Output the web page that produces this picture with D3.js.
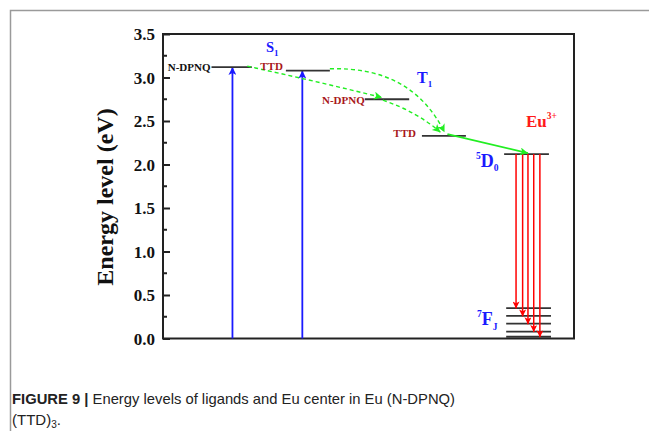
<!DOCTYPE html>
<html>
<head>
<meta charset="utf-8">
<script src="https://cdn.jsdelivr.net/npm/d3@7"></script>
<style>
  html, body { margin: 0; padding: 0; background: #fff; }
  svg { display: block; }
</style>
</head>
<body>
<svg id="chart" width="649" height="431"></svg>
<script>
// Energy levels (eV) and horizontal extents (diagram units, 0..10)
const levelNames   = ["N-DPNQ S1", "TTD S1", "N-DPNQ T1", "TTD T1", "5D0"];
const levelEnergy  = [3.12, 3.08, 2.75, 2.33, 2.12];
const levelStart   = [1.18, 2.99, 4.91, 6.30, 8.30];
const levelEnd     = [2.16, 4.06, 5.99, 7.37, 9.39];

// 7F_J manifold of Eu3+
const fjEnergy = [0.35, 0.26, 0.17, 0.08, 0.02];
const fjStart = 8.35, fjEnd = 9.44;

// Excitation arrows (ground -> S1) and emission arrows (5D0 -> 7FJ)
const excitationX   = [1.69, 3.39];
const excitationTo  = [3.12, 3.08];
const emissionX     = [8.59, 8.75, 8.88, 9.02, 9.17];

// Energy transfer paths: [x, E] start, control, end
const transferPaths = [
  [[2.05, 3.13], [3.70, 2.96], [5.33, 2.77]],
  [[4.06, 3.10], [6.05, 3.13], [6.85, 2.37]],
  [[5.35, 2.74], [6.20, 2.60], [6.75, 2.37]]
];
const transferSolid = [[6.92, 2.35], [8.88, 2.13]];

const yTicks = [0.0, 0.5, 1.0, 1.5, 2.0, 2.5, 3.0, 3.5];
const yMinor = [0.25, 0.75, 1.25, 1.75, 2.25, 2.75, 3.25];

const svg = d3.select("#chart");
const plotLeft = 163, plotRight = 574, plotTop = 34, plotBottom = 338.5;

const x = d3.scaleLinear().domain([0, 10]).range([plotLeft, plotRight]);
const y = d3.scaleLinear().domain([0, 3.5]).range([plotBottom, plotTop]);

const serif = "'Liberation Serif', 'Times New Roman', serif";
const darkRed = "#a8171a";
const blue = "#1a1aff";
const green = "#22ee22";

// Outer page frame
svg.append("path")
  .attr("d", "M10.5,431 V10.5 H649")
  .attr("fill", "none").attr("stroke", "#9a9a9a").attr("stroke-width", 1.5);

// Markers
const defs = svg.append("defs");
function marker(id, color, w, h) {
  defs.append("marker")
    .attr("id", id).attr("viewBox", "0 0 10 10")
    .attr("refX", 10).attr("refY", 5)
    .attr("markerUnits", "userSpaceOnUse")
    .attr("markerWidth", w).attr("markerHeight", h)
    .attr("orient", "auto")
    .append("path").attr("d", "M0,0 L10,5 L0,10 L2.5,5 Z").attr("fill", color);
}
marker("arrBlue", blue, 10, 8);
marker("arrRed", "#ff0000", 10, 7);
marker("arrGreen", green, 10, 8);

// Plot frame
svg.append("rect")
  .attr("x", plotLeft).attr("y", plotTop)
  .attr("width", plotRight - plotLeft).attr("height", plotBottom - plotTop)
  .attr("fill", "none").attr("stroke", "#222").attr("stroke-width", 2);

// Y axis ticks (inward) and labels
const yAxis = d3.axisRight(y).tickValues(yTicks).tickSize(7).tickFormat(d3.format(".1f"));
const ga = svg.append("g").attr("transform", `translate(${plotLeft},0)`).call(yAxis);
ga.select(".domain").remove();
ga.selectAll(".tick line").attr("stroke", "#222").attr("stroke-width", 2);
ga.selectAll(".tick text")
  .attr("x", -8).attr("dy", "0.34em")
  .attr("text-anchor", "end")
  .attr("fill", "#111")
  .attr("font-family", serif).attr("font-weight", "bold").attr("font-size", 17);
svg.append("g").selectAll("line").data(yMinor).join("line")
  .attr("x1", plotLeft).attr("x2", plotLeft + 4)
  .attr("y1", d => y(d)).attr("y2", d => y(d))
  .attr("stroke", "#222").attr("stroke-width", 2);

// Axis title
svg.append("text")
  .attr("transform", `translate(113,197) rotate(-90)`)
  .attr("text-anchor", "middle")
  .attr("font-family", serif).attr("font-weight", "bold").attr("font-size", 24)
  .attr("fill", "#111")
  .text("Energy level (eV)");

// Excitation arrows
svg.append("g").selectAll("line").data(excitationX).join("line")
  .attr("x1", d => x(d)).attr("x2", d => x(d))
  .attr("y1", y(0)).attr("y2", (d, i) => y(excitationTo[i]))
  .attr("stroke", blue).attr("stroke-width", 1.8)
  .attr("marker-end", "url(#arrBlue)");

// Energy levels
svg.append("g").selectAll("line").data(levelEnergy).join("line")
  .attr("x1", (d, i) => x(levelStart[i])).attr("x2", (d, i) => x(levelEnd[i]))
  .attr("y1", d => y(d)).attr("y2", d => y(d))
  .attr("stroke", "#333").attr("stroke-width", 1.8);
svg.append("g").selectAll("line").data(fjEnergy).join("line")
  .attr("x1", x(fjStart)).attr("x2", x(fjEnd))
  .attr("y1", d => y(d)).attr("y2", d => y(d))
  .attr("stroke", "#333").attr("stroke-width", 1.8);

// Emission arrows 5D0 -> 7FJ
svg.append("g").selectAll("line").data(emissionX).join("line")
  .attr("x1", d => x(d)).attr("x2", d => x(d))
  .attr("y1", y(levelEnergy[4])).attr("y2", (d, i) => y(fjEnergy[i]) + 0.5)
  .attr("stroke", "#ff0000").attr("stroke-width", 1.5)
  .attr("marker-end", "url(#arrRed)");

// Energy transfer (dashed curves)
svg.append("g").selectAll("path").data(transferPaths).join("path")
  .attr("d", p => {
    const path = d3.path();
    path.moveTo(x(p[0][0]), y(p[0][1]));
    path.quadraticCurveTo(x(p[1][0]), y(p[1][1]), x(p[2][0]), y(p[2][1]));
    return path.toString();
  })
  .attr("fill", "none").attr("stroke", green).attr("stroke-width", 1.4)
  .attr("stroke-dasharray", "4,3")
  .attr("marker-end", "url(#arrGreen)");
svg.append("line")
  .attr("x1", x(transferSolid[0][0])).attr("y1", y(transferSolid[0][1]))
  .attr("x2", x(transferSolid[1][0])).attr("y2", y(transferSolid[1][1]))
  .attr("stroke", green).attr("stroke-width", 1.8)
  .attr("marker-end", "url(#arrGreen)");

// Level labels
function label(px, py, txt, color, size, anchor) {
  return svg.append("text").attr("x", px).attr("y", py)
    .attr("text-anchor", anchor || "start")
    .attr("font-family", serif).attr("font-weight", "bold")
    .attr("font-size", size).attr("fill", color).text(txt);
}
label(x(levelStart[0]) - 1, y(levelEnergy[0]) + 4, "N-DPNQ", "#111", 11, "end");
label(x(levelStart[1]) - 3, y(levelEnergy[1]) - 1, "TTD", darkRed, 11, "end");
label(x(levelStart[2]), y(levelEnergy[2]) + 5, "N-DPNQ", darkRed, 11, "end");
label(x(levelStart[3]) - 6, y(levelEnergy[3]) + 1, "TTD", darkRed, 11, "end");

// State labels with sub/superscripts
function stateText(px, py, size, color) {
  return svg.append("text").attr("x", px).attr("y", py)
    .attr("font-family", serif).attr("font-weight", "bold")
    .attr("font-size", size).attr("fill", color);
}
let t = stateText(266, 52, 14.5, blue);
t.append("tspan").text("S");
t.append("tspan").attr("font-size", 9).attr("dy", 4).text("1");

t = stateText(417, 83, 16, blue);
t.append("tspan").text("T");
t.append("tspan").attr("font-size", 9).attr("dy", 4).text("1");

t = stateText(526, 127, 17, "#ff1a1a");
t.append("tspan").text("Eu");
t.append("tspan").attr("font-size", 9.5).attr("dy", -8).text("3+");

t = stateText(476, 167, 18, blue);
t.append("tspan").attr("font-size", 9.5).attr("dy", -8).text("5");
t.append("tspan").attr("dy", 8).text("D");
t.append("tspan").attr("font-size", 9.5).attr("dy", 4).text("0");

t = stateText(477, 325, 18, blue);
t.append("tspan").attr("font-size", 9.5).attr("dy", -8).text("7");
t.append("tspan").attr("dy", 8).text("F");
t.append("tspan").attr("font-size", 9.5).attr("dy", 5).text("J");

// Caption
const capFont = "'Liberation Sans', Arial, sans-serif";
const cap = svg.append("text").attr("x", 12).attr("y", 404)
  .attr("font-family", capFont).attr("font-size", 15).attr("fill", "#222")
  .attr("textLength", 443).attr("lengthAdjust", "spacingAndGlyphs");
cap.append("tspan").attr("font-weight", "bold").text("FIGURE 9 | ");
cap.append("tspan").text("Energy levels of ligands and Eu center in Eu (N-DPNQ)");
const cap2 = svg.append("text").attr("x", 12).attr("y", 425)
  .attr("font-family", capFont).attr("font-size", 15).attr("fill", "#222");
cap2.append("tspan").text("(TTD)");
cap2.append("tspan").attr("font-size", 10).attr("dy", 2.5).text("3");
cap2.append("tspan").attr("dy", -2.5).text(".");
</script>
</body>
</html>
